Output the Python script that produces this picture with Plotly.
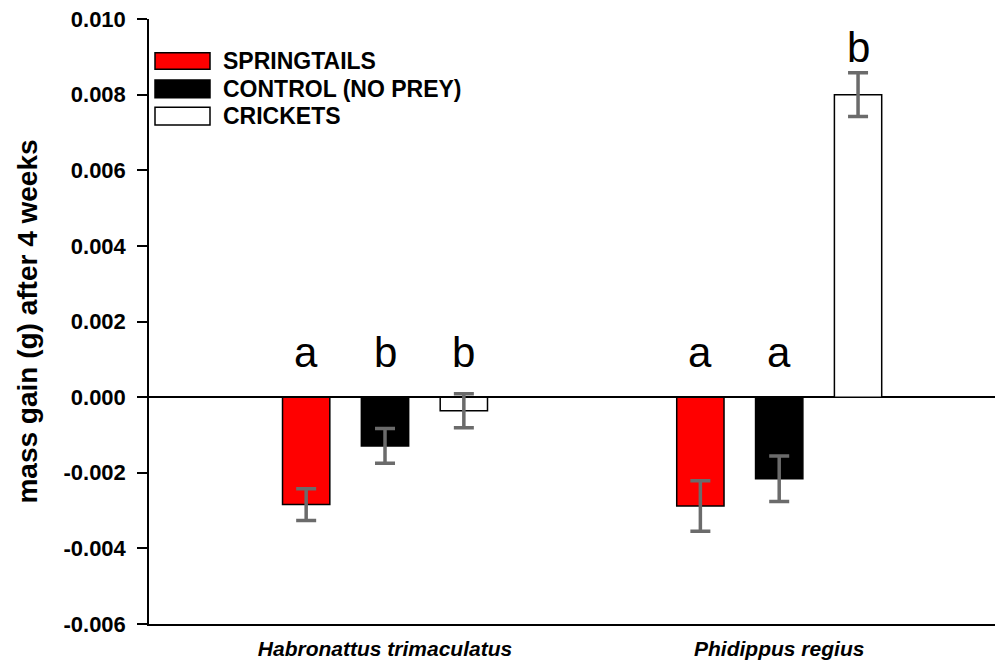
import plotly.graph_objects as go

# ---- data ----
species = ["Habronattus trimaculatus", "Phidippus regius"]
series_names = ["SPRINGTAILS", "CONTROL (NO PREY)", "CRICKETS"]
springtails = [-0.00284, -0.00288]
springtails_err = [0.00042, 0.00067]
control = [-0.00129, -0.00216]
control_err = [0.00046, 0.00060]
crickets = [-0.00036, 0.00800]
crickets_err = [0.00045, 0.00058]
letters_springtails = ["a", "a"]
letters_control = ["b", "a"]
letters_crickets = ["b", "b"]
ytick_vals = [-0.006, -0.004, -0.002, 0.0, 0.002, 0.004, 0.006, 0.008, 0.010]
ytick_text = ["-0.006", "-0.004", "-0.002", "0.000", "0.002", "0.004", "0.006", "0.008", "0.010"]

# ---- style ----
FONT = "Liberation Sans, Arial, sans-serif"
fills = ["#ff0000", "#000000", "#ffffff"]
PAGE_OFF = 8  # default body margin of the html page
W, H = 1003 - PAGE_OFF, 664 - PAGE_OFF
ML, MR, MT, MB = 149 - PAGE_OFF, 0, 19 - PAGE_OFF, 40

values = [springtails, control, crickets]
errors = [springtails_err, control_err, crickets_err]
letters = [letters_springtails, letters_control, letters_crickets]

fig = go.Figure()
for name, vals, errs, col in zip(series_names, values, errors, fills):
    fig.add_trace(go.Bar(
        name=name, x=species, y=vals,
        marker=dict(color=col, line=dict(color="#000000", width=1.5)),
        error_y=dict(type="data", array=errs, visible=True,
                     color="#6b6b6b", thickness=3.5, width=10),
        showlegend=False,
    ))

# significance letters
offsets = [-0.2, 0.0, 0.2]
for si, (vals, errs, lets) in enumerate(zip(values, errors, letters)):
    for gi in range(len(species)):
        top = max(vals[gi] + errs[gi], 0.0005)
        fig.add_annotation(x=gi + offsets[si], y=top, xref="x", yref="y",
                           text=lets[gi], showarrow=False, yanchor="bottom",
                           font=dict(family=FONT, size=42, color="#000000"))

# manual legend (swatches + labels), page-pixel layout converted to paper coords
pw, ph = W - ML - MR, H - MT - MB
def px_x(p):
    return (p - PAGE_OFF - ML) / pw
def px_y(p):
    return (H - MB - (p - PAGE_OFF)) / ph

sw_x0, sw_x1 = 155, 210
rows = [(52.7, 69.3), (80.0, 97.7), (107.3, 125.0)]
for name, col, (y0, y1) in zip(series_names, fills, rows):
    fig.add_shape(type="rect", xref="paper", yref="paper",
                  x0=px_x(sw_x0), x1=px_x(sw_x1), y0=px_y(y1), y1=px_y(y0),
                  fillcolor=col, line=dict(color="#000000", width=1.5))
    fig.add_annotation(xref="paper", yref="paper", x=px_x(221), y=px_y((y0 + y1) / 2),
                       text="<b>%s</b>" % name, showarrow=False,
                       xanchor="left", yanchor="middle",
                       font=dict(family=FONT, size=23, color="#000000"))

fig.update_layout(
    width=W, height=H,
    margin=dict(l=ML, r=MR, t=MT, b=MB, pad=0),
    paper_bgcolor="#ffffff", plot_bgcolor="#ffffff",
    barmode="group", bargap=0.4, bargroupgap=0.4,
    font=dict(family=FONT, color="#000000"),
)
fig.update_xaxes(
    type="category", range=[-0.5987, 1.5677],
    showline=True, linecolor="#000000", linewidth=1.5, mirror=False,
    ticks="", showgrid=False, zeroline=False,
    tickfont=dict(family=FONT, size=21, color="#000000"),
    tickvals=species, ticktext=["<b><i>%s</i></b>" % s for s in species],
    ticklabelstandoff=5, ticklabeloverflow="allow",
)
fig.update_yaxes(
    range=[-0.006, 0.010],
    tickvals=ytick_vals, ticktext=["<b>%s</b>" % t for t in ytick_text],
    showline=True, linecolor="#000000", linewidth=1.5,
    ticks="outside", ticklen=10, tickwidth=1.5, tickcolor="#000000",
    ticklabelstandoff=7, ticklabeloverflow="allow",
    showgrid=False, zeroline=True, zerolinecolor="#000000", zerolinewidth=1.5,
    tickfont=dict(family=FONT, size=22, color="#000000"),
    title=dict(text="<b>mass gain (g) after 4 weeks</b>", standoff=18,
               font=dict(family=FONT, size=28, color="#000000")),
)

fig.write_html("out.html")
